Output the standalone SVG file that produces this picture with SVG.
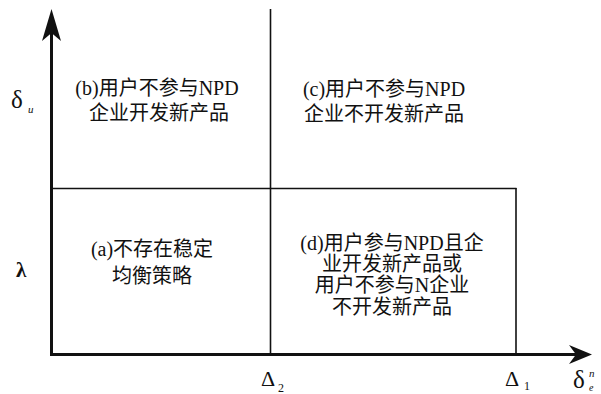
<svg xmlns="http://www.w3.org/2000/svg" width="601" height="394" viewBox="0 0 601 394">
<style>
.t{font-family:"Liberation Serif","Noto Sans CJK SC",serif;font-size:20px;fill:#111;text-anchor:middle}
.g{font-family:"Liberation Serif","DejaVu Serif",serif;fill:#111}
.ax{stroke:#111;stroke-width:3;fill:none}
.ln{stroke:#111;stroke-width:1.6;fill:none}
.ah{fill:#111;stroke:none}
</style>
<rect width="601" height="394" fill="#fff"/>
<g id="connectors">
<line class="ax" x1="51.5" y1="356" x2="51.5" y2="30"/>
<path class="ah" d="M51.5,9 L61,41 L51.5,33 L42,41 Z"/>
<line class="ax" x1="50" y1="354.5" x2="580" y2="354.5"/>
<path class="ah" d="M592,354.5 L569,345 L576,354.5 L569,364 Z"/>
<line class="ln" x1="270.5" y1="9" x2="270.5" y2="354"/>
<line class="ln" x1="51" y1="188.5" x2="516.5" y2="188.5"/>
<line class="ln" x1="516" y1="188" x2="516" y2="354"/>
</g>
<g id="node-b">
<text class="t" x="157" y="95">(b)用户不参与NPD</text>
<text class="t" x="159" y="120">企业开发新产品</text>
</g>
<g id="node-c">
<text class="t" x="384" y="96">(c)用户不参与NPD</text>
<text class="t" x="384" y="121">企业不开发新产品</text>
</g>
<g id="node-a">
<text class="t" x="152" y="256">(a)不存在稳定</text>
<text class="t" x="152" y="283">均衡策略</text>
</g>
<g id="node-d">
<text class="t" x="392" y="250">(d)用户参与NPD且企</text>
<text class="t" x="392" y="271">业开发新产品或</text>
<text class="t" x="392" y="292">用户不参与N企业</text>
<text class="t" x="392" y="314">不开发新产品</text>
</g>
<g id="axis-labels">
<text class="g" x="11" y="108" font-size="25">δ</text>
<text class="g" x="28" y="113" font-size="11" font-style="italic">u</text>
<text class="g" x="16" y="277" font-size="21" font-weight="bold">λ</text>
<text class="g" x="261" y="386" font-size="22">Δ</text>
<text class="g" x="278" y="392" font-size="12">2</text>
<text class="g" x="505" y="386" font-size="22">Δ</text>
<text class="g" x="524" y="390" font-size="12">1</text>
<text class="g" x="573" y="388" font-size="25">δ</text>
<text class="g" x="589" y="377" font-size="11" font-style="italic">n</text>
<text class="g" x="589" y="391" font-size="10" font-style="italic">e</text>
</g>
</svg>
